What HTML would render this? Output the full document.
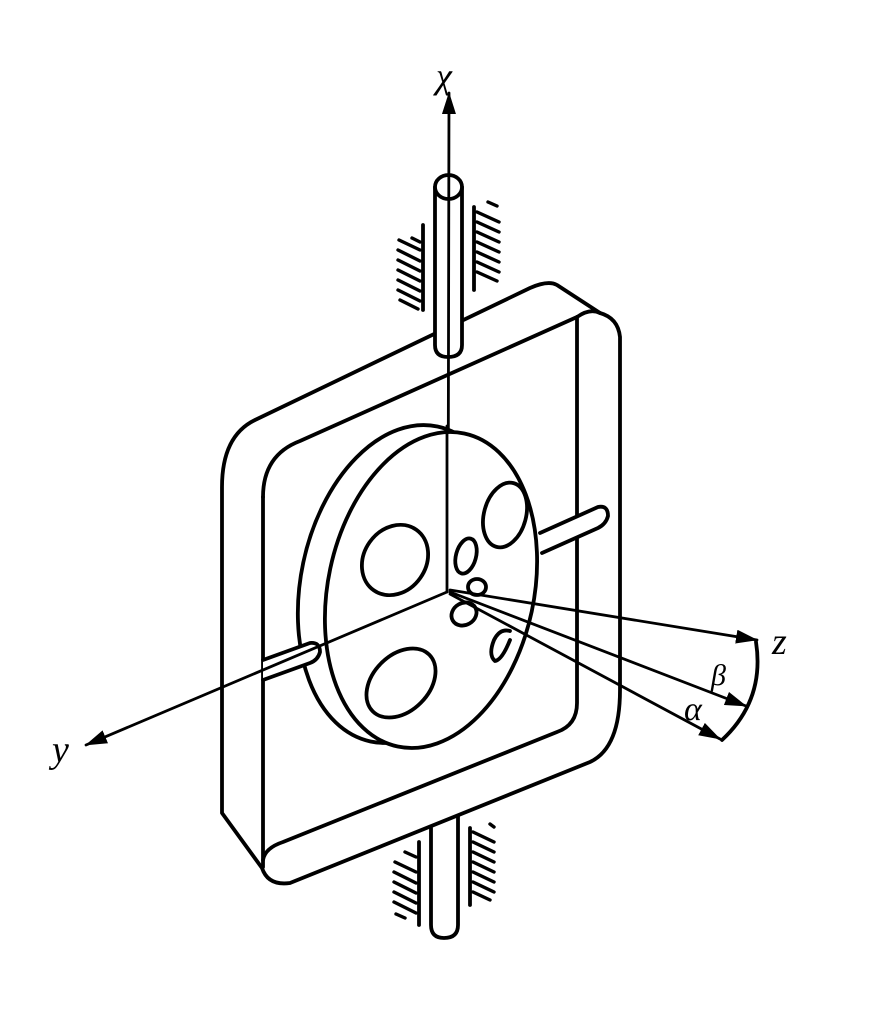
<!DOCTYPE html>
<html><head><meta charset="utf-8"><style>
html,body{margin:0;padding:0;background:#fff;}
svg{display:block}
text{font-family:"Liberation Serif",serif;font-style:italic;fill:#000}
</style></head><body>
<svg width="884" height="1013" viewBox="0 0 884 1013" xmlns="http://www.w3.org/2000/svg">
<defs>
<marker id="ah2" markerWidth="22" markerHeight="14" refX="21" refY="7" orient="auto" markerUnits="userSpaceOnUse" viewBox="0 0 22 14">
<path d="M0,0 L22,7 L0,14 Z" fill="#000"/></marker>
</defs>
<g fill="none" stroke="#000" stroke-width="3.8" stroke-linecap="round" stroke-linejoin="round">
<!-- hatching top -->
<line x1="423" y1="225" x2="423" y2="310"/>
<g stroke-width="3.4">
<line x1="399" y1="240" x2="420" y2="250"/><line x1="398" y1="250" x2="420" y2="261"/><line x1="398" y1="260" x2="420" y2="271"/><line x1="398" y1="270" x2="420" y2="281"/><line x1="398" y1="280" x2="420" y2="291"/><line x1="398" y1="290" x2="420" y2="301"/><line x1="400" y1="300" x2="418" y2="309"/><line x1="412" y1="238" x2="420" y2="242"/>
</g>
<line x1="474" y1="207" x2="474" y2="290"/>
<g stroke-width="3.4">
<line x1="477" y1="212" x2="499" y2="222"/><line x1="477" y1="222" x2="499" y2="232"/><line x1="477" y1="232" x2="499" y2="242"/><line x1="477" y1="242" x2="499" y2="252"/><line x1="477" y1="252" x2="499" y2="262"/><line x1="477" y1="262" x2="499" y2="272"/><line x1="477" y1="272" x2="497" y2="281"/><line x1="488" y1="202" x2="497" y2="206"/>
</g>
<!-- hatching bottom -->
<line x1="419" y1="842" x2="419" y2="925"/>
<g stroke-width="3.4">
<line x1="395" y1="862" x2="416" y2="872"/><line x1="394" y1="872" x2="416" y2="883"/><line x1="394" y1="882" x2="416" y2="893"/><line x1="394" y1="892" x2="416" y2="903"/><line x1="394" y1="902" x2="416" y2="913"/><line x1="396" y1="914" x2="405" y2="918"/><line x1="405" y1="852" x2="416" y2="857"/>
</g>
<line x1="470" y1="828" x2="470" y2="905"/>
<g stroke-width="3.4">
<line x1="473" y1="832" x2="494" y2="842"/><line x1="473" y1="842" x2="494" y2="852"/><line x1="473" y1="852" x2="494" y2="862"/><line x1="473" y1="862" x2="494" y2="872"/><line x1="473" y1="872" x2="494" y2="882"/><line x1="473" y1="882" x2="494" y2="892"/><line x1="473" y1="892" x2="490" y2="900"/><line x1="490" y1="824" x2="494" y2="827"/>
</g>
<!-- bottom shaft -->
<path d="M431,828 L431,925 Q431,938 444,938 Q458,938 458,925 L458,815" fill="#fff"/>
<!-- frame -->
<path d="M222,487 L222,813 L262,868 Q268,886 290,883 L590,762 Q620,748 620,690 L620,337 Q618,318 600,313 L557,285 Q548,280 530,288 L255,420 Q222,436 222,487 Z" fill="#fff"/>
<path d="M263,497 L263,867"/>
<path d="M263,497 Q263,455 300,441 L577,317"/>
<path d="M577,317 L577,703 Q577,725 557,732 L283,842 Q265,848 263,860"/>
<path d="M577,317 Q590,308 600,313"/>
<!-- top shaft -->
<path d="M435,187 L435,345 Q435,357 448,357 Q462,357 462,345 L462,187" fill="#fff"/>
<ellipse cx="448.5" cy="187" rx="13.5" ry="12" fill="#fff"/>
<!-- x axis -->
<line x1="448" y1="592" x2="449" y2="93" stroke-width="2.8" marker-end="url(#ah2)"/>
<!-- pins -->
<path d="M540,533 L598,507 Q608,505 608,516 Q606,524 598,528 L542,553" fill="#fff"/>
<!-- disk -->
<ellipse cx="404" cy="584" rx="103" ry="161" transform="rotate(12 404 584)" fill="#fff"/>
<ellipse cx="431" cy="590" rx="103" ry="160" transform="rotate(12 431 590)" fill="#fff"/>
<line x1="447" y1="426" x2="447" y2="592" stroke-width="2.8"/>
<path d="M263,660 L310,643 Q320,642 320,652 Q318,660 310,663 L263,680" fill="#fff"/>
<!-- holes -->
<ellipse cx="395" cy="560" rx="31" ry="37" transform="rotate(35 395 560)"/>
<ellipse cx="505" cy="515" rx="21" ry="33" transform="rotate(15 505 515)"/>
<ellipse cx="466" cy="556" rx="10" ry="18" transform="rotate(15 466 556)"/>
<ellipse cx="477" cy="587" rx="9" ry="8"/>
<ellipse cx="464" cy="614" rx="13" ry="11" transform="rotate(-30 464 614)"/>
<path d="M510,631 Q500,628 494,640 Q488,655 495,661 Q502,660 510,640"/>
<ellipse cx="401" cy="683" rx="40" ry="28" transform="rotate(-45 401 683)"/>
<!-- axes -->
<line x1="447" y1="592" x2="86" y2="745" stroke-width="2.8" marker-end="url(#ah2)"/>
<line x1="450" y1="590" x2="757" y2="640" stroke-width="2.8" marker-end="url(#ah2)"/>
<line x1="450" y1="592" x2="746" y2="706" stroke-width="2.8" marker-end="url(#ah2)"/>
<line x1="450" y1="594" x2="720" y2="739" stroke-width="2.8" marker-end="url(#ah2)"/>
<path d="M756,642 Q765,700 722,740"/>
</g>
<text x="436" y="88" font-size="36">χ</text>
<text x="52" y="762" font-size="38">y</text>
<text x="772" y="654" font-size="38">z</text>
<text x="711" y="685" font-size="30">β</text>
<text x="684" y="720" font-size="34">α</text>
</svg>
</body></html>
